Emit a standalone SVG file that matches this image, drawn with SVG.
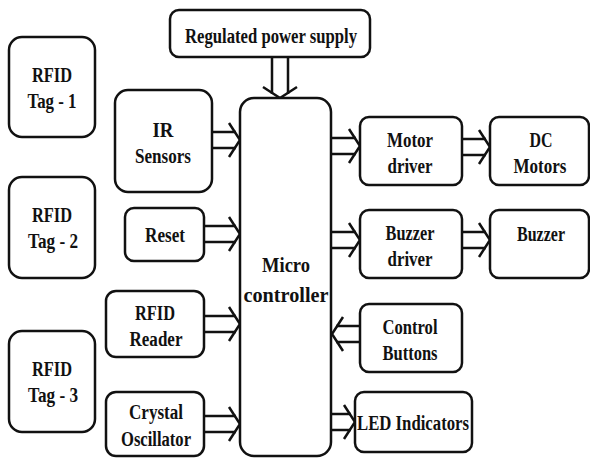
<svg xmlns="http://www.w3.org/2000/svg" width="590" height="459" viewBox="0 0 590 459">
<style>
.box{fill:#fff;stroke:#111;stroke-width:2.5}
.t{font-family:"Liberation Serif","Times New Roman",serif;font-weight:bold;font-size:20px;fill:#111;text-anchor:middle}
.big{font-size:21px}
.ln{fill:none;stroke:#111;stroke-width:2.5}
</style>
<defs>
<path id="hr" d="M-11,-17 L0,0 L-11,17" fill="none" stroke="#111" stroke-width="2.5" stroke-linejoin="miter"/>
</defs>
<rect width="590" height="459" fill="#fff"/>
<g id="connectors">
<g id="c-power"><path class="ln" d="M272,57 V94 M288,57 V94"/><use href="#hr" transform="translate(280,98) rotate(90)"/></g>
<g id="c-ir"><path class="ln" d="M212,132 H236 M212,148 H236"/><use href="#hr" transform="translate(240,140)"/></g>
<g id="c-reset"><path class="ln" d="M204,226 H236 M204,242 H236"/><use href="#hr" transform="translate(240,234)"/></g>
<g id="c-reader"><path class="ln" d="M204,316 H236 M204,332 H236"/><use href="#hr" transform="translate(240,324)"/></g>
<g id="c-crystal"><path class="ln" d="M204,416 H236 M204,432 H236"/><use href="#hr" transform="translate(240,424)"/></g>
<g id="c-motor"><path class="ln" d="M331,138 H356 M331,154 H356"/><use href="#hr" transform="translate(360,146)"/></g>
<g id="c-dc"><path class="ln" d="M462,139 H486 M462,155 H486"/><use href="#hr" transform="translate(490,147)"/></g>
<g id="c-bdrv"><path class="ln" d="M331,232 H356 M331,248 H356"/><use href="#hr" transform="translate(360,240)"/></g>
<g id="c-buzzer"><path class="ln" d="M462,232 H486 M462,248 H486"/><use href="#hr" transform="translate(490,240)"/></g>
<g id="c-control"><path class="ln" d="M360,326 H336 M360,342 H336"/><use href="#hr" transform="translate(332,334) rotate(180)"/></g>
<g id="c-led"><path class="ln" d="M331,414 H351 M331,430 H351"/><use href="#hr" transform="translate(355,422)"/></g>
</g>
<g id="power"><rect class="box" x="170" y="10" width="200" height="47" rx="9"/><text class="t" x="271" y="43" textLength="172" lengthAdjust="spacingAndGlyphs">Regulated power supply</text></g>
<g id="tag1"><rect class="box" x="9" y="37" width="86" height="100" rx="13"/><text class="t" x="52" y="82" textLength="40" lengthAdjust="spacingAndGlyphs">RFID</text><text class="t" x="52" y="108" textLength="49" lengthAdjust="spacingAndGlyphs">Tag - 1</text></g>
<g id="tag2"><rect class="box" x="9" y="177" width="86" height="101" rx="13"/><text class="t" x="52" y="222" textLength="40" lengthAdjust="spacingAndGlyphs">RFID</text><text class="t" x="53" y="248" textLength="50" lengthAdjust="spacingAndGlyphs">Tag - 2</text></g>
<g id="tag3"><rect class="box" x="9" y="331" width="86" height="101" rx="13"/><text class="t" x="52" y="376" textLength="40" lengthAdjust="spacingAndGlyphs">RFID</text><text class="t" x="53" y="402" textLength="50" lengthAdjust="spacingAndGlyphs">Tag - 3</text></g>
<g id="ir"><rect class="box" x="115" y="90" width="97" height="102" rx="13"/><text class="t" x="163" y="137" textLength="21" lengthAdjust="spacingAndGlyphs">IR</text><text class="t" x="163" y="163" textLength="56" lengthAdjust="spacingAndGlyphs">Sensors</text></g>
<g id="reset"><rect class="box" x="125" y="208" width="79" height="53" rx="9"/><text class="t" x="165" y="242" textLength="40" lengthAdjust="spacingAndGlyphs">Reset</text></g>
<g id="reader"><rect class="box" x="106" y="291" width="98" height="66" rx="10"/><text class="t" x="155" y="320" textLength="40" lengthAdjust="spacingAndGlyphs">RFID</text><text class="t" x="156" y="346" textLength="53" lengthAdjust="spacingAndGlyphs">Reader</text></g>
<g id="crystal"><rect class="box" x="106" y="392" width="98" height="64" rx="10"/><text class="t" x="156" y="419" textLength="54" lengthAdjust="spacingAndGlyphs">Crystal</text><text class="t" x="156" y="446" textLength="70" lengthAdjust="spacingAndGlyphs">Oscillator</text></g>
<g id="micro"><rect class="box" x="240" y="98" width="91" height="358" rx="14"/><text class="t big" x="286" y="272" textLength="48" lengthAdjust="spacingAndGlyphs">Micro</text><text class="t big" x="286" y="302" textLength="85" lengthAdjust="spacingAndGlyphs">controller</text></g>
<g id="motordrv"><rect class="box" x="360" y="117" width="102" height="68" rx="9"/><text class="t" x="410" y="147" textLength="46" lengthAdjust="spacingAndGlyphs">Motor</text><text class="t" x="410" y="173" textLength="45" lengthAdjust="spacingAndGlyphs">driver</text></g>
<g id="dcmotors"><rect class="box" x="490" y="117" width="99" height="68" rx="9"/><text class="t" x="541" y="147" textLength="23" lengthAdjust="spacingAndGlyphs">DC</text><text class="t" x="540" y="173" textLength="53" lengthAdjust="spacingAndGlyphs">Motors</text></g>
<g id="buzzerdrv"><rect class="box" x="360" y="210" width="102" height="68" rx="9"/><text class="t" x="410" y="240" textLength="49" lengthAdjust="spacingAndGlyphs">Buzzer</text><text class="t" x="410" y="266" textLength="45" lengthAdjust="spacingAndGlyphs">driver</text></g>
<g id="buzzer"><rect class="box" x="490" y="210" width="99" height="68" rx="9"/><text class="t" x="541" y="241" textLength="48" lengthAdjust="spacingAndGlyphs">Buzzer</text></g>
<g id="control"><rect class="box" x="360" y="304" width="102" height="68" rx="9"/><text class="t" x="410" y="334" textLength="55" lengthAdjust="spacingAndGlyphs">Control</text><text class="t" x="410" y="360" textLength="55" lengthAdjust="spacingAndGlyphs">Buttons</text></g>
<g id="led"><rect class="box" x="355" y="392" width="117" height="60" rx="9"/><text class="t" x="413" y="430" textLength="112" lengthAdjust="spacingAndGlyphs">LED Indicators</text></g>
</svg>
